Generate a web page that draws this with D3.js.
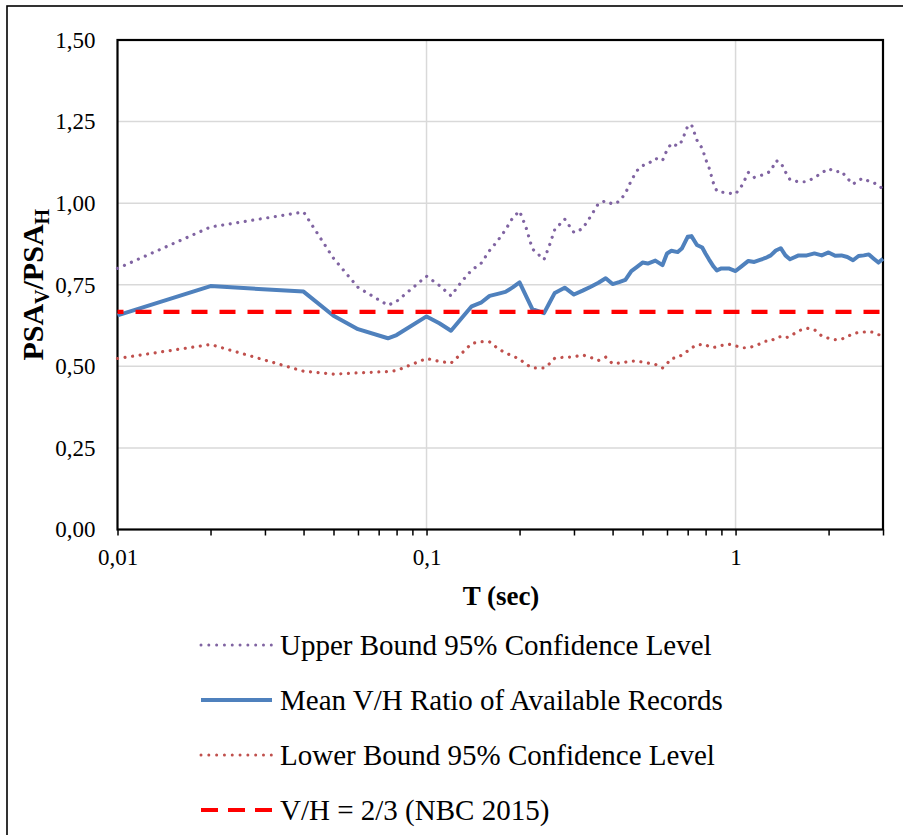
<!DOCTYPE html>
<html>
<head>
<meta charset="utf-8">
<script src="https://cdn.jsdelivr.net/npm/d3@7"></script>
<style>
  html, body { margin: 0; padding: 0; background: #fff; }
  svg { display: block; }
  text { font-family: "Liberation Serif", "Times New Roman", serif; fill: #000; }
</style>
</head>
<body>
<svg id="chart" width="903" height="835"></svg>
<script>
// Spectral periods T (sec)
const periods = [0.01, 0.02, 0.04, 0.05, 0.06, 0.075, 0.08, 0.1, 0.11, 0.12, 0.13, 0.14, 0.15, 0.16, 0.17, 0.18, 0.19, 0.2,
  0.21, 0.22, 0.24, 0.25, 0.26, 0.28, 0.3, 0.32, 0.34, 0.36, 0.38, 0.4, 0.42, 0.44, 0.46, 0.48, 0.5, 0.52, 0.55, 0.58,
  0.6, 0.62, 0.65, 0.67, 0.7, 0.72, 0.75, 0.78, 0.8, 0.82, 0.85, 0.87, 0.9, 0.95, 1.0, 1.05, 1.1, 1.15, 1.2, 1.25,
  1.3, 1.35, 1.4, 1.45, 1.5, 1.6, 1.7, 1.8, 1.9, 2.0, 2.1, 2.2, 2.3, 2.4, 2.5, 2.6, 2.7, 2.8, 2.9, 3.0];

// Upper bound of the 95% confidence level
const upperBound = [0.800, 0.927, 0.973, 0.831, 0.742, 0.687, 0.699, 0.776, 0.748, 0.716, 0.760, 0.795, 0.815, 0.855, 0.885, 0.918, 0.955, 0.976,
  0.925, 0.860, 0.827, 0.871, 0.919, 0.951, 0.910, 0.922, 0.960, 0.999, 1.007, 0.997, 1.005, 1.030, 1.070, 1.100, 1.115, 1.120, 1.137, 1.130,
  1.163, 1.183, 1.175, 1.190, 1.236, 1.241, 1.193, 1.168, 1.135, 1.110, 1.058, 1.037, 1.034, 1.031, 1.028, 1.055, 1.094, 1.079, 1.084, 1.090,
  1.098, 1.130, 1.125, 1.096, 1.072, 1.065, 1.066, 1.078, 1.093, 1.106, 1.096, 1.098, 1.076, 1.058, 1.071, 1.076, 1.067, 1.062, 1.056, 1.042];

// Mean V/H ratio of the available records
const meanRatio = [0.656, 0.746, 0.729, 0.655, 0.614, 0.586, 0.596, 0.653, 0.632, 0.609, 0.648, 0.684, 0.695, 0.716, 0.722, 0.728, 0.742, 0.757,
  0.715, 0.675, 0.663, 0.695, 0.725, 0.741, 0.720, 0.732, 0.744, 0.756, 0.770, 0.752, 0.758, 0.765, 0.792, 0.805, 0.818, 0.815, 0.824, 0.810,
  0.846, 0.854, 0.850, 0.861, 0.897, 0.899, 0.872, 0.864, 0.845, 0.828, 0.805, 0.794, 0.800, 0.800, 0.792, 0.808, 0.823, 0.820, 0.826, 0.832,
  0.840, 0.855, 0.862, 0.840, 0.828, 0.840, 0.840, 0.846, 0.840, 0.849, 0.839, 0.840, 0.835, 0.825, 0.838, 0.840, 0.843, 0.830, 0.818, 0.830];

// Lower bound of the 95% confidence level
const lowerBound = [0.524, 0.567, 0.485, 0.476, 0.480, 0.484, 0.487, 0.524, 0.515, 0.510, 0.540, 0.570, 0.576, 0.575, 0.555, 0.541, 0.532, 0.522,
  0.506, 0.495, 0.495, 0.508, 0.525, 0.528, 0.529, 0.535, 0.527, 0.518, 0.528, 0.508, 0.510, 0.513, 0.516, 0.516, 0.513, 0.510, 0.506, 0.495,
  0.508, 0.524, 0.527, 0.535, 0.547, 0.556, 0.566, 0.567, 0.567, 0.560, 0.558, 0.560, 0.564, 0.568, 0.563, 0.557, 0.557, 0.562, 0.569, 0.577,
  0.577, 0.588, 0.591, 0.587, 0.592, 0.609, 0.617, 0.612, 0.593, 0.586, 0.582, 0.583, 0.591, 0.600, 0.604, 0.605, 0.607, 0.604, 0.597, 0.595];

// NBC 2015 code ratio
const codeRatio = 2 / 3;

const yTicks = [0, 0.25, 0.5, 0.75, 1.0, 1.25, 1.5];
const xMajorTicks = [0.01, 0.1, 1];
const xMinorTicks = [0.02, 0.03, 0.04, 0.05, 0.06, 0.07, 0.08, 0.09, 0.2, 0.3, 0.4, 0.5, 0.6, 0.7, 0.8, 0.9, 2, 3];

const legendLabels = [
  "Upper Bound 95% Confidence Level",
  "Mean V/H Ratio of Available Records",
  "Lower Bound 95% Confidence Level",
  "V/H = 2/3 (NBC 2015)"
];

const colors = { upper: "#8064A2", mean: "#4F81BD", lower: "#C0504D", code: "#FF0000" };

const svg = d3.select("#chart");
const plot = { left: 117.5, right: 883, top: 40, bottom: 529.5 };

const x = d3.scaleLog().domain([0.01, 3]).range([plot.left, plot.right]);
const y = d3.scaleLinear().domain([0, 1.5]).range([plot.bottom, plot.top]);

const locale = d3.formatLocale({ decimal: ",", thousands: ".", grouping: [3], currency: ["", ""] });
const fmtY = locale.format(".2f");
const fmtX = v => locale.format("")(v);

// outer chart border
svg.append("rect").attr("x", 7).attr("y", 6).attr("width", 920).attr("height", 860)
  .attr("fill", "none").attr("stroke", "#000").attr("stroke-width", 1.6);

// gridlines
const grid = svg.append("g");
grid.selectAll("line.h").data(yTicks.filter(d => d > 0 && d < 1.5)).join("line")
  .attr("x1", plot.left).attr("x2", plot.right)
  .attr("y1", d => y(d)).attr("y2", d => y(d))
  .attr("stroke", "#d9d9d9").attr("stroke-width", 1.5);
grid.selectAll("line.v").data(xMajorTicks.filter(d => d > 0.01)).join("line")
  .attr("x1", d => x(d)).attr("x2", d => x(d))
  .attr("y1", plot.top).attr("y2", plot.bottom)
  .attr("stroke", "#d9d9d9").attr("stroke-width", 1.5);

// x axis
const xAxis = d3.axisBottom(x)
  .tickValues(xMajorTicks.concat(xMinorTicks))
  .tickSize(6)
  .tickPadding(13)
  .tickFormat(d => xMajorTicks.includes(d) ? fmtX(d) : "");
const gx = svg.append("g").attr("transform", `translate(0,${plot.bottom})`).call(xAxis);
gx.select(".domain").remove();
gx.selectAll(".tick line").attr("stroke", "#000").attr("stroke-width", 1.5);
gx.selectAll(".tick text").attr("font-size", 23).attr("font-family", "Liberation Serif, serif");

// y axis
const yAxis = d3.axisLeft(y).tickValues(yTicks).tickSize(0).tickPadding(22).tickFormat(fmtY);
const gy = svg.append("g").attr("transform", `translate(${plot.left},0)`).call(yAxis);
gy.select(".domain").remove();
gy.selectAll(".tick text").attr("font-size", 23).attr("font-family", "Liberation Serif, serif").attr("dy", "0.32em");

// plot-area frame
svg.append("rect")
  .attr("x", plot.left).attr("y", plot.top)
  .attr("width", plot.right - plot.left).attr("height", plot.bottom - plot.top)
  .attr("fill", "none").attr("stroke", "#000").attr("stroke-width", 2.2);

// series
const line = d3.line().x(d => x(d[0])).y(d => y(d[1]));
const series = (vals) => periods.map((p, i) => [p, vals[i]]);

svg.append("clipPath").attr("id", "plotclip").append("rect")
  .attr("x", plot.left - 3).attr("y", plot.top).attr("width", plot.right - plot.left + 6).attr("height", plot.bottom - plot.top);
const lines = svg.append("g").attr("clip-path", "url(#plotclip)");

lines.append("path").datum(series(upperBound)).attr("d", line)
  .attr("fill", "none").attr("stroke", colors.upper).attr("stroke-width", 3.2)
  .attr("stroke-linecap", "round").attr("stroke-dasharray", "0.01,7.6");

lines.append("path").datum(series(meanRatio)).attr("d", line)
  .attr("fill", "none").attr("stroke", colors.mean).attr("stroke-width", 4)
  .attr("stroke-linejoin", "round");

lines.append("path").datum(series(lowerBound)).attr("d", line)
  .attr("fill", "none").attr("stroke", colors.lower).attr("stroke-width", 3.2)
  .attr("stroke-linecap", "round").attr("stroke-dasharray", "0.01,7.6");

lines.append("path").datum([[0.01, codeRatio], [3, codeRatio]]).attr("d", line)
  .attr("fill", "none").attr("stroke", colors.code).attr("stroke-width", 4.2)
  .attr("stroke-dasharray", "16,12").attr("stroke-dashoffset", 10);

// axis titles
svg.append("text").attr("x", 501).attr("y", 605).attr("text-anchor", "middle")
  .attr("font-size", 27).attr("font-weight", "bold").text("T (sec)");

const yTitle = svg.append("text")
  .attr("transform", `translate(43,${(plot.top + plot.bottom) / 2}) rotate(-90)`)
  .attr("text-anchor", "middle").attr("font-size", 30).attr("font-weight", "bold");
yTitle.append("tspan").text("PSA");
yTitle.append("tspan").attr("font-size", 20).attr("dy", 6).text("V");
yTitle.append("tspan").attr("dy", -6).text("/PSA");
yTitle.append("tspan").attr("font-size", 20).attr("dy", 6).text("H");

// legend
const legendY = [645, 700, 755, 810];
const lg = svg.append("g");
const lx1 = 201, lx2 = 272;
lg.append("line").attr("x1", lx1).attr("x2", lx2).attr("y1", legendY[0]).attr("y2", legendY[0])
  .attr("stroke", colors.upper).attr("stroke-width", 3).attr("stroke-linecap", "round").attr("stroke-dasharray", "0.01,7.8");
lg.append("line").attr("x1", lx1).attr("x2", lx2).attr("y1", legendY[1]).attr("y2", legendY[1])
  .attr("stroke", colors.mean).attr("stroke-width", 4);
lg.append("line").attr("x1", lx1).attr("x2", lx2).attr("y1", legendY[2]).attr("y2", legendY[2])
  .attr("stroke", colors.lower).attr("stroke-width", 3).attr("stroke-linecap", "round").attr("stroke-dasharray", "0.01,7.8");
lg.append("line").attr("x1", lx1).attr("x2", lx2).attr("y1", legendY[3]).attr("y2", legendY[3])
  .attr("stroke", colors.code).attr("stroke-width", 4.2).attr("stroke-dasharray", "17,10");
lg.selectAll("text").data(legendLabels).join("text")
  .attr("x", 280).attr("y", (d, i) => legendY[i]).attr("dy", "0.35em")
  .attr("font-size", 29).text(d => d);
</script>
</body>
</html>
